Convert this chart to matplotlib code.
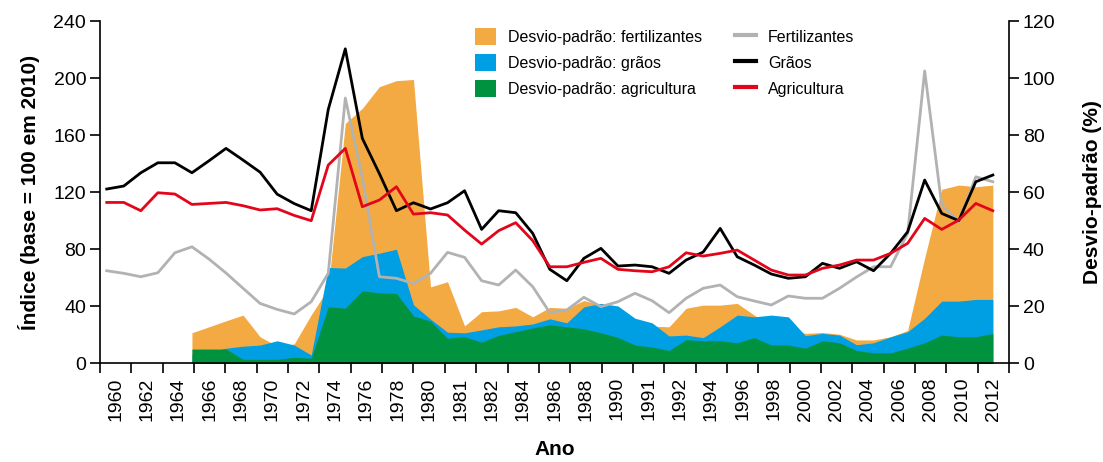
import matplotlib
matplotlib.use('Agg')
import matplotlib.pyplot as plt
from matplotlib.patches import Patch
from matplotlib.lines import Line2D
import numpy as np

plt.rcParams['font.family'] = ['Liberation Sans', 'DejaVu Sans']

anos = list(range(1960, 2013))
anos_dp = list(range(1965, 2013))

# índices (base = 100 em 2010)
fertilizantes = [64.9, 63.1, 60.7, 63.5, 77.5, 81.7, 73.1, 63.3, 52.6, 42.0,
                 37.8, 34.6, 43.2, 63.1, 186.0, 130.0, 60.7, 59.6, 56.0, 63.1,
                 77.8, 74.3, 57.9, 54.9, 65.4, 53.7, 35.5, 37.4, 46.3, 39.7,
                 43.2, 49.1, 43.9, 35.5, 45.6, 52.6, 54.9, 46.7, 43.7, 40.9,
                 47.2, 45.6, 45.6, 52.6, 60.5, 67.7, 67.7, 91.1, 205.0, 111.0,
                 99.3, 130.8, 127.3]
graos = [122.2, 124.3, 133.6, 140.6, 140.6, 133.6, 142.0, 150.7, 142.5, 134.0,
         118.6, 112.0, 107.0, 178.0, 220.5, 157.7, 133.0, 107.0, 112.6, 108.2,
         112.6, 121.0, 93.9, 107.0, 105.6, 91.1, 65.9, 57.9, 73.6, 80.6,
         68.2, 68.9, 67.7, 63.1, 72.4, 78.0, 94.6, 74.7, 68.9, 62.6,
         59.6, 60.7, 70.1, 66.6, 71.2, 64.9, 77.1, 92.2, 128.5, 105.1,
         100.0, 127.3, 132.0]
agricultura = [112.8, 112.8, 107.0, 119.6, 118.7, 111.4, 112.1, 112.8, 110.5, 107.5,
               108.4, 103.7, 100.0, 139.0, 150.7, 109.8, 114.5, 123.8, 104.6, 105.6,
               104.0, 93.4, 83.6, 93.0, 98.6, 86.0, 67.7, 67.7, 70.8, 73.6,
               65.9, 64.9, 64.2, 67.7, 77.5, 75.2, 77.1, 79.4, 72.4, 65.4,
               61.9, 61.9, 66.6, 68.9, 72.4, 72.4, 77.1, 84.1, 101.6, 93.9,
               100.4, 112.1, 107.0]

# desvio-padrão (%)
dp_fertilizantes = [10.7, 12.8, 14.9, 16.9, 9.3, 6.0, 6.8, 17.0, 26.3, 84.1,
                    89.4, 97.0, 99.1, 99.5, 26.8, 28.6, 13.1, 18.1, 18.4, 19.6,
                    16.3, 19.6, 19.3, 22.0, 20.5, 19.0, 14.0, 13.0, 12.8, 19.3,
                    20.4, 20.4, 21.0, 16.9, 13.0, 11.5, 10.5, 10.8, 10.2, 8.2,
                    8.2, 9.3, 11.5, 37.0, 61.0, 62.5, 61.9, 62.5]
dp_graos = [3.0, 4.0, 5.3, 6.0, 6.4, 7.9, 6.4, 2.9, 33.6, 33.4,
            37.4, 38.6, 40.0, 20.5, 15.5, 10.9, 10.7, 11.7, 12.8, 13.1,
            13.8, 15.6, 14.2, 19.8, 21.0, 20.1, 15.8, 14.2, 9.6, 9.9,
            9.0, 12.8, 16.9, 16.3, 16.9, 16.3, 9.7, 10.5, 9.9, 6.5,
            7.2, 9.3, 11.1, 15.8, 21.8, 21.8, 22.4, 22.4]
dp_agricultura = [5.0, 5.0, 5.0, 1.4, 1.4, 1.4, 2.1, 1.8, 19.8, 19.3,
                  25.4, 24.7, 24.5, 16.6, 14.8, 8.8, 9.3, 7.4, 9.8, 11.1,
                  12.4, 13.5, 12.8, 12.1, 10.7, 9.1, 6.4, 5.7, 4.5, 8.3,
                  7.9, 7.9, 7.2, 9.0, 6.4, 6.4, 5.3, 7.9, 7.2, 4.5,
                  3.7, 3.7, 5.3, 7.2, 9.9, 9.3, 9.3, 10.5]

rotulos_x = ['1960', '1962', '1964', '1966', '1968', '1970', '1972', '1974',
             '1976', '1978', '1980', '1981', '1982', '1984', '1986', '1988',
             '1990', '1991', '1992', '1994', '1996', '1998', '2000', '2002',
             '2004', '2006', '2008', '2010', '2012']

laranja = '#F4AA42'
azul = '#009FE3'
verde = '#00923F'
cinza = '#B2B2B2'
vermelho = '#E3061A'

fig = plt.figure(figsize=(11.03, 4.62), dpi=100)
ax = fig.add_axes([0.0907, 0.2136, 0.8241, 0.7409])
ax2 = ax.twinx()
ax.set_zorder(ax2.get_zorder() + 1)
ax.patch.set_visible(False)

ax2.fill_between(anos_dp, dp_fertilizantes, color=laranja, lw=0)
ax2.fill_between(anos_dp, dp_graos, color=azul, lw=0)
ax2.fill_between(anos_dp, dp_agricultura, color=verde, lw=0)

ax.plot(anos, fertilizantes, color=cinza, lw=2.0)
ax.plot(anos, graos, color='black', lw=2.0)
ax.plot(anos, agricultura, color=vermelho, lw=2.0)

xmin, xmax = 1959.607, 2012.95
ax.set_xlim(xmin, xmax)
ax.set_ylim(0, 240)
ax2.set_ylim(0, 120)
ax.set_yticks(np.arange(0, 241, 40))
ax2.set_yticks(np.arange(0, 121, 20))

bordas = np.linspace(xmin, xmax, len(rotulos_x) + 1)
centros = (bordas[:-1] + bordas[1:]) / 2
ax.set_xticks(bordas)
ax.set_xticklabels([])
ax.set_xticks(centros, minor=True)
ax.set_xticklabels(rotulos_x, minor=True, rotation=90)
ax.tick_params(axis='x', which='minor', length=0, pad=10, labelsize=14)
ax.tick_params(axis='x', which='major', length=7, width=1.2, direction='out')
ax.tick_params(axis='y', length=7, width=1.2, labelsize=14, pad=3)
ax2.tick_params(axis='y', length=7, width=1.2, labelsize=14, pad=3)

for a in (ax, ax2):
    a.spines['top'].set_visible(False)
    for s in ('left', 'right', 'bottom'):
        a.spines[s].set_linewidth(1.2)
ax.spines['right'].set_visible(False)
ax2.spines['left'].set_visible(False)
ax2.spines['bottom'].set_visible(False)

ax.set_ylabel('Índice (base = 100 em 2010)', fontsize=15, fontweight='bold', labelpad=10)
ax2.set_ylabel('Desvio-padrão (%)', fontsize=15, fontweight='bold', labelpad=20)
ax.set_xlabel('Ano', fontsize=15, fontweight='bold', labelpad=14)

handles = [Patch(color=laranja, lw=0), Patch(color=azul, lw=0), Patch(color=verde, lw=0),
           Line2D([], [], color=cinza, lw=3), Line2D([], [], color='black', lw=3),
           Line2D([], [], color=vermelho, lw=3)]
labels = ['Desvio-padrão: fertilizantes', 'Desvio-padrão: grãos',
          'Desvio-padrão: agricultura', 'Fertilizantes', 'Grãos', 'Agricultura']
fig.legend(handles, labels, ncol=2, loc='upper left', bbox_to_anchor=(0.4306, 0.939),
           frameon=False, fontsize=11.5, handlelength=1.3, handleheight=1.25,
           handletextpad=0.75, columnspacing=2.1, labelspacing=0.56,
           borderpad=0, borderaxespad=0)

fig.savefig('out.png', dpi=100)
